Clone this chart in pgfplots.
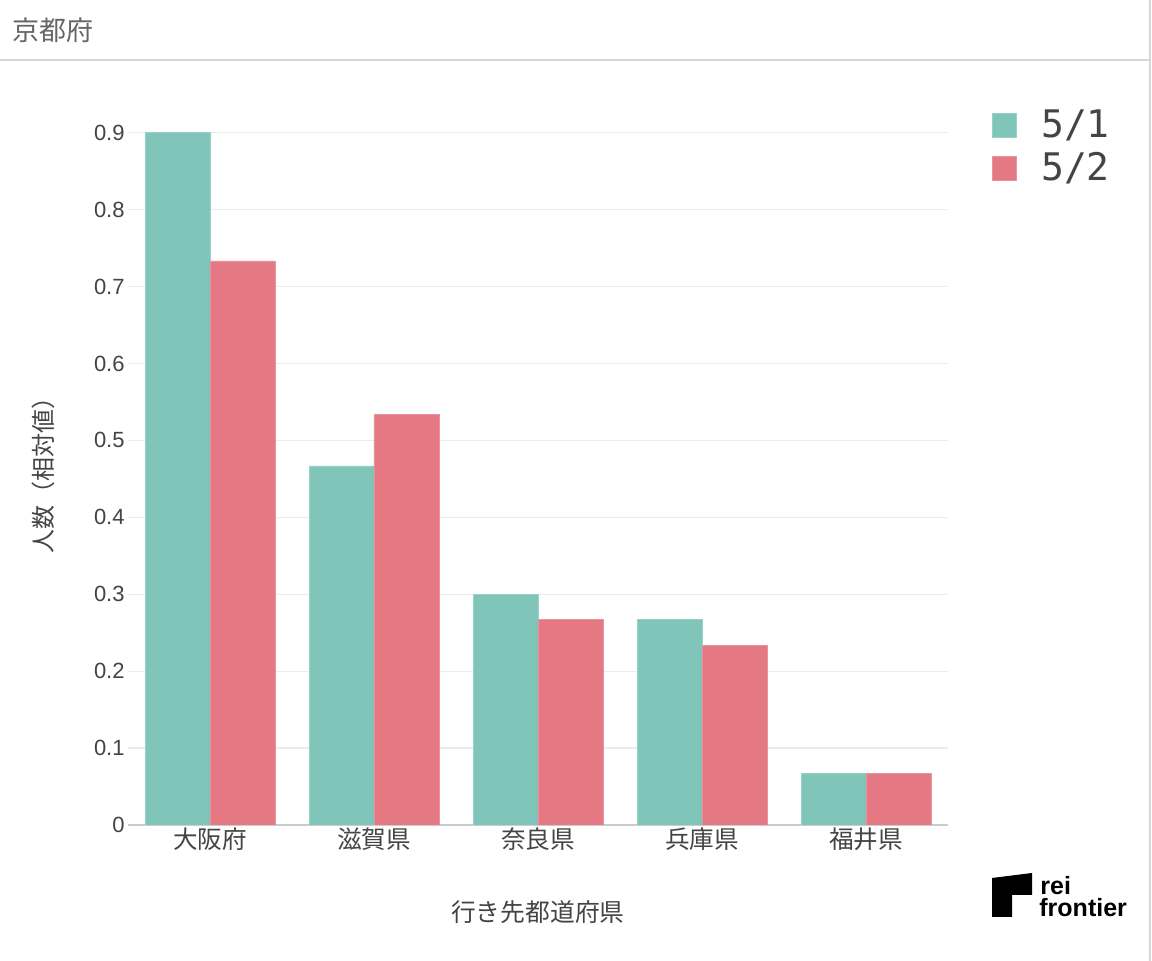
\documentclass[border=0pt]{standalone}
\usepackage{fontspec}
\usepackage{pgfplots}
\pgfplotsset{compat=1.18}
\setmainfont{Liberation Sans}
\newfontfamily\jp{Noto Sans CJK JP}
\newfontfamily\mono{DejaVu Sans Mono}

\definecolor{teal51}{HTML}{7FC5B9}
\definecolor{pink52}{HTML}{E47984}
\definecolor{gridc}{HTML}{EBEBEB}
\definecolor{axisc}{HTML}{CCCCCC}
\definecolor{framec}{HTML}{D6D6D6}
\definecolor{textc}{HTML}{444444}
\definecolor{titlec}{HTML}{666666}

\begin{document}
\begin{tikzpicture}
  % page: 1152x961 px at 0.5pt per px
  \path[use as bounding box, fill=white] (0,0) rectangle (576pt,480.5pt);
  \draw[framec, line width=1pt] (0,450.5pt) -- (575pt,450.5pt);
  \draw[framec, line width=1pt] (575pt,0) -- (575pt,480.5pt);
  \node[anchor=west, inner sep=0pt, text=titlec, font=\jp\fontsize{13.5pt}{16pt}\selectfont]
    at (6pt,465.5pt) {京都府};

  \begin{axis}[
      at={(64pt,68pt)}, anchor=south west,
      scale only axis,
      width=410pt, height=355pt,
      xmin=-0.5, xmax=4.5,
      ymin=0, ymax=0.923,
      xtick={0,1,2,3,4},
      xticklabels={大阪府,滋賀県,奈良県,兵庫県,福井県},
      ytick={0,0.1,0.2,0.3,0.4,0.5,0.6,0.7,0.8,0.9},
      yticklabels={0,0.1,0.2,0.3,0.4,0.5,0.6,0.7,0.8,0.9},
      major tick length=0pt,
      axis x line*=bottom, axis y line*=left,
      separate axis lines,
      x axis line style={draw=axisc, line width=1pt, -},
      y axis line style={draw=none},
      ymajorgrids=true,
      major grid style={draw=gridc, line width=0.6pt},
      xticklabel style={anchor=base, yshift=-12pt, text=textc,
        font=\jp\fontsize{12.3pt}{14pt}\selectfont},
      yticklabel style={anchor=east, inner sep=0pt, xshift=-1.5pt, text=textc,
        font=\fontsize{11pt}{13pt}\selectfont},
      xlabel={行き先都道府県},
      ylabel={人数（相対値）},
      xlabel style={at={(axis description cs:0.5,0)}, anchor=center, yshift=-43.5pt,
        text=textc, font=\jp\fontsize{12.4pt}{14pt}\selectfont},
      ylabel style={at={(axis description cs:0,0.5)}, anchor=center, yshift=42.5pt,
        text=textc, font=\jp\fontsize{12pt}{14pt}\selectfont},
      ybar, bar width=0.396,
      legend cell align=left,
      legend style={at={(1.0537,1.008)}, anchor=north west, draw=none, fill=none,
        inner sep=0pt, row sep=6pt,
        nodes={inner sep=0pt, text=textc, font=\mono\fontsize{19pt}{21pt}\selectfont},
        /tikz/every odd column/.append style={column sep=12pt}},
      legend image code/.code={\fill[#1] (0pt,-6pt) rectangle (12pt,6pt);},
    ]
    \addplot[fill=teal51, draw=teal51!80!white, line width=0.4pt, bar shift=-0.198]
      coordinates {(0,0.9) (1,0.4667) (2,0.3) (3,0.2667) (4,0.0667)};
    \addlegendentry{5/1}
    \addplot[fill=pink52, draw=pink52!80!white, line width=0.4pt, bar shift=0.198]
      coordinates {(0,0.7333) (1,0.5333) (2,0.2667) (3,0.2333) (4,0.0667)};
    \addlegendentry{5/2}
  \end{axis}

  % logo
  \fill[black] (496pt,41.5pt) -- (516pt,44pt) -- (516pt,33pt) -- (506pt,33pt)
    -- (506pt,22pt) -- (496pt,22pt) -- cycle;
  \node[anchor=base west, inner sep=0pt, font=\bfseries\fontsize{12.5pt}{12pt}\selectfont]
    at (520pt,33pt) {rei};
  \node[anchor=base west, inner sep=0pt, font=\bfseries\fontsize{12.5pt}{12pt}\selectfont]
    at (519.5pt,22pt) {frontier};
\end{tikzpicture}
\end{document}
